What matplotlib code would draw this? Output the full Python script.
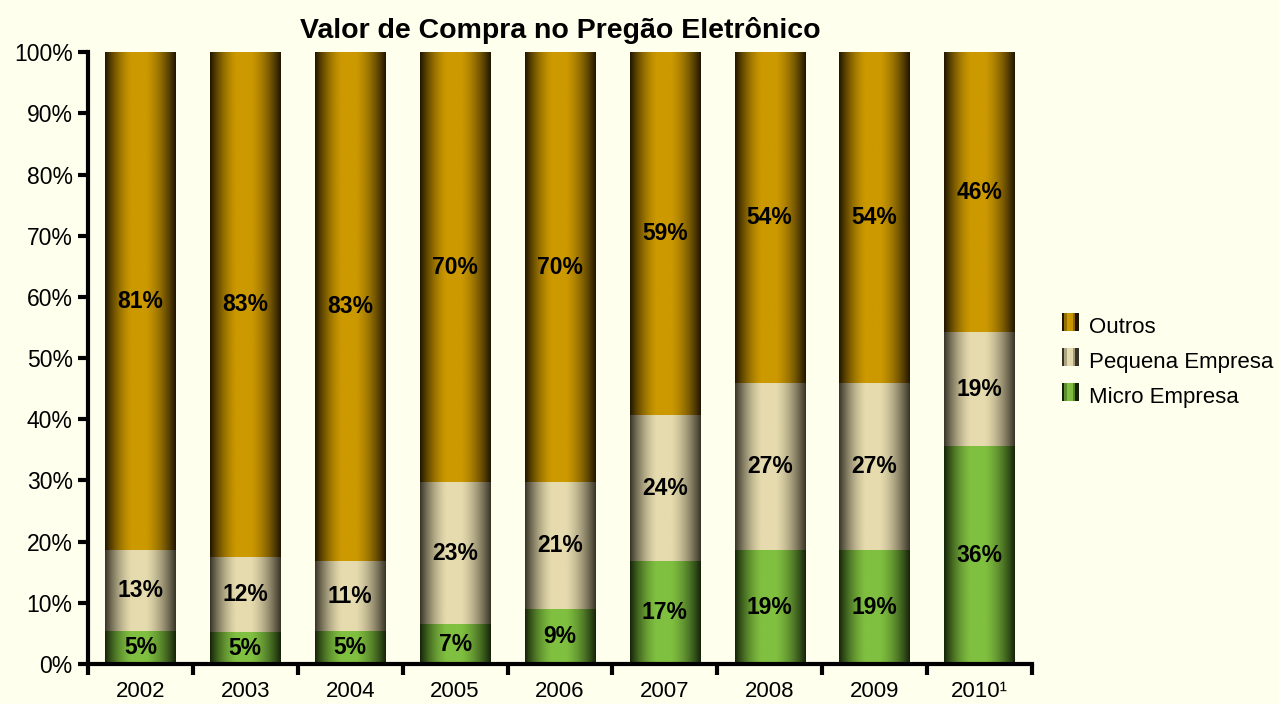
import numpy as np
import matplotlib
matplotlib.use("Agg")
import matplotlib.pyplot as plt
from matplotlib.ticker import FixedLocator, PercentFormatter
from matplotlib.patches import Rectangle
from matplotlib.legend_handler import HandlerBase

plt.rcParams["font.family"] = ["Liberation Sans", "DejaVu Sans"]

years = ["2002", "2003", "2004", "2005", "2006", "2007", "2008", "2009", "2010¹"]
micro = [5.4, 5.2, 5.4, 6.5, 9.0, 16.8, 18.6, 18.6, 35.6]
pequena = [13.2, 12.3, 11.4, 23.2, 20.7, 23.9, 27.3, 27.3, 18.6]
outros = [81.4, 82.5, 83.2, 70.3, 70.3, 59.3, 54.1, 54.1, 45.8]

micro_lbl = ["5%", "5%", "5%", "7%", "9%", "17%", "19%", "19%", "36%"]
pequena_lbl = ["13%", "12%", "11%", "23%", "21%", "24%", "27%", "27%", "19%"]
outros_lbl = ["81%", "83%", "83%", "70%", "70%", "59%", "54%", "54%", "46%"]

bg = "#FFFFEE"
# (edge colour, centre colour) for each series
shades = {
    "Micro Empresa": ("#142208", "#80C040"),
    "Pequena Empresa": ("#363226", "#E6DBAE"),
    "Outros": ("#1E1400", "#CC9900"),
}


def gradient(edge, centre, n=200):
    e = np.array(matplotlib.colors.to_rgb(edge))
    c = np.array(matplotlib.colors.to_rgb(centre))
    t = np.linspace(0, 1, n)
    # peak a bit left of the middle, like the excel fill
    u = np.where(t < 0.47, t / 0.47 * 0.5, 0.5 + (t - 0.47) / 0.53 * 0.5)
    w = np.clip(np.sin(np.pi * u) ** 0.9 * 1.05, 0, 1)
    return (e[None, :] * (1 - w[:, None]) + c[None, :] * w[:, None])[None, :, :]


fig = plt.figure(figsize=(12.79, 7.04), dpi=100, facecolor=bg)
ax = fig.add_axes([0.0688, 0.0568, 0.738, 0.869], facecolor=bg)

x = np.arange(len(years))
width = 0.67
bottom = np.zeros(len(years))
for name, vals, lbls in [("Micro Empresa", micro, micro_lbl),
                         ("Pequena Empresa", pequena, pequena_lbl),
                         ("Outros", outros, outros_lbl)]:
    edge, centre = shades[name]
    img = gradient(edge, centre)
    bars = ax.bar(x, vals, width, bottom=bottom, color="none", label=name,
                  linewidth=0)
    for b in bars:
        x0, y0 = b.get_x(), b.get_y()
        ax.imshow(img, extent=[x0, x0 + b.get_width(), y0, y0 + b.get_height()],
                  aspect="auto", interpolation="bilinear", zorder=1)
    for xi, bi, v, l in zip(x, bottom, vals, lbls):
        ax.text(xi, bi + v / 2, l, ha="center", va="center", fontsize=16.5,
                fontweight="bold", color="black", zorder=3)
    bottom = bottom + np.array(vals)

ax.set_xlim(-0.5, len(years) - 0.5)
ax.set_ylim(0, 100)
ax.set_aspect("auto")

ax.yaxis.set_major_locator(FixedLocator(np.arange(0, 101, 10)))
ax.yaxis.set_major_formatter(PercentFormatter(decimals=0))
ax.set_xticks(x)
ax.set_xticklabels(years)
ax.set_xticks(np.arange(-0.5, len(years), 1), minor=True)
ax.tick_params(axis="x", which="major", length=0, pad=12, labelsize=16)
ax.tick_params(axis="x", which="minor", length=8, width=3, direction="out")
ax.tick_params(axis="y", length=7, width=3, direction="out", labelsize=16.5, pad=4)

for s in ["top", "right"]:
    ax.spines[s].set_visible(False)
for s in ["left", "bottom"]:
    ax.spines[s].set_linewidth(3)

ax.set_title("Valor de Compra no Pregão Eletrônico", fontsize=20.5,
             fontweight="bold", pad=10)


class GradHandler(HandlerBase):
    def __init__(self, edge, centre):
        super().__init__()
        self.edge, self.centre = edge, centre

    def create_artists(self, legend, orig, xd, yd, w, h, fontsize, trans):
        arts = []
        n = 6
        cols = gradient(self.edge, self.centre, n)[0]
        sw = w
        for i in range(n):
            r = Rectangle((xd + i * sw / n, yd), sw / n + 0.3, h,
                          facecolor=cols[i], edgecolor="none", transform=trans)
            arts.append(r)
        return arts


order = ["Outros", "Pequena Empresa", "Micro Empresa"]
proxies = [Rectangle((0, 0), 1, 1) for _ in order]
hmap = {p: GradHandler(*shades[n]) for p, n in zip(proxies, order)}
fig.legend(proxies, order, handler_map=hmap, loc="center left",
           bbox_to_anchor=(0.830, 0.486), frameon=False, fontsize=16,
           handlelength=0.75, handleheight=0.9, handletextpad=0.5,
           labelspacing=0.6, borderpad=0, borderaxespad=0)

fig.savefig("out.png", dpi=100, facecolor=bg)
